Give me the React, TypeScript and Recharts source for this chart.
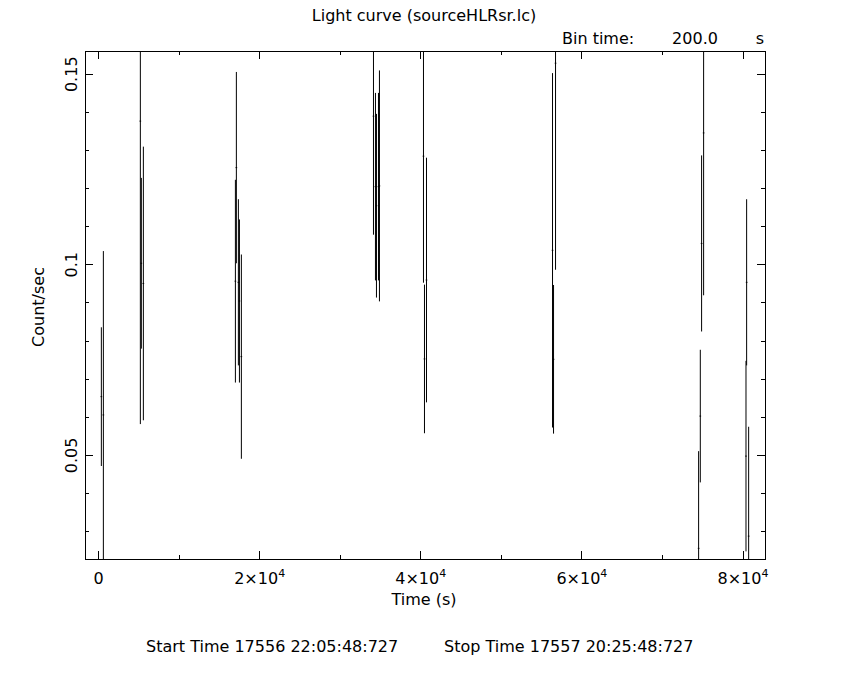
import React from "react";
import { ScatterChart, Scatter, XAxis, YAxis, ErrorBar, ReferenceArea } from "recharts";

// light curve bins: time (s), rate (count/s), 1-sigma error
const times = [
  350, 600, 5190, 5315, 5565, 16990, 17110, 17360, 17490, 17730, 34130, 34375,
  34500, 34750, 34870, 40335, 40460, 40710, 56355, 56480, 56730, 74490, 74700,
  74860, 75110, 80370, 80450, 80700,
];
const rates = [
  0.0654, 0.0606, 0.1377, 0.1004, 0.0951, 0.0957, 0.1255, 0.0954, 0.0905,
  0.0759, 0.139, 0.1205, 0.1155, 0.1205, 0.1207, 0.1285, 0.0753, 0.096, 0.1038,
  0.0752, 0.1529, 0.0256, 0.0603, 0.1056, 0.1346, 0.0498, 0.0954, 0.0288,
];
const errors = [
  0.0182, 0.043, 0.0795, 0.0224, 0.0359, 0.0266, 0.0251, 0.0218, 0.0214,
  0.0268, 0.0311, 0.0246, 0.0241, 0.0246, 0.0303, 0.0332, 0.0195, 0.0321,
  0.0465, 0.0195, 0.0542, 0.0255, 0.0174, 0.0231, 0.0426, 0.025, 0.0218,
  0.0287,
];
const BIN_HALF = 100;

const xTicks = [0, 10000, 20000, 30000, 40000, 50000, 60000, 70000, 80000];
const xMajor = [0, 20000, 40000, 60000, 80000];
const yTicks = [0.03, 0.04, 0.05, 0.06, 0.07, 0.08, 0.09, 0.1, 0.11, 0.12, 0.13, 0.14, 0.15];
const yMajor = [0.05, 0.1, 0.15];
const yLabels = ["0.05", "0.1", "0.15"];

const X_DOMAIN = [-1680, 82730];
const Y_DOMAIN = [0.0228, 0.1561];

const data = times.map((t, i) => ({
  t,
  rate: rates[i],
  err: errors[i],
  xerr: BIN_HALF,
}));

// error bars cut at the frame, like the plotting package does
const clippedErr = (d: any) => [
  Math.min(d.err, d.rate - Y_DOMAIN[0]),
  Math.min(d.err, Y_DOMAIN[1] - d.rate),
];

const W = 850;
const H = 680;
const M = { top: 51, right: 85, bottom: 121, left: 85 };
const PLOT_W = W - M.left - M.right;
const PLOT_H = H - M.top - M.bottom;

const FONT = "'DejaVu Sans', sans-serif";
const near = (a: number, b: number) => Math.abs(a - b) < 1e-9;
const isMajorX = (v: number) => xMajor.some((m) => near(m, v));
const yMajorIdx = (v: number) => yMajor.findIndex((m) => near(m, v));

function xLabel(v: number) {
  if (v === 0) return <tspan>0</tspan>;
  const m = v / 10000;
  return (
    <>
      <tspan>{`${m}×10`}</tspan>
      <tspan dy={-7} fontSize={11}>
        4
      </tspan>
    </>
  );
}

// ticks point inwards on all four sides
const BottomTick = (p: any) => {
  const { x, y, payload } = p;
  const len = isMajorX(payload.value) ? 8 : 4;
  return (
    <g>
      <line x1={x} x2={x} y1={y} y2={y - len} stroke="#000" shapeRendering="crispEdges" />
      <line x1={x} x2={x} y1={y - PLOT_H} y2={y - PLOT_H + len} stroke="#000" shapeRendering="crispEdges" />
      {len === 8 && (
        <text x={x} y={y + 25} textAnchor="middle" fontSize={16} fill="#000" fontFamily={FONT}>
          {xLabel(payload.value)}
        </text>
      )}
    </g>
  );
};

const LeftTick = (p: any) => {
  const { x, y, payload } = p;
  const idx = yMajorIdx(payload.value);
  const len = idx >= 0 ? 8 : 4;
  const lx = x - 8;
  return (
    <g>
      <line x1={x} x2={x + len} y1={y} y2={y} stroke="#000" shapeRendering="crispEdges" />
      <line x1={x + PLOT_W} x2={x + PLOT_W - len} y1={y} y2={y} stroke="#000" shapeRendering="crispEdges" />
      {idx >= 0 && (
        <text
          x={lx}
          y={y}
          transform={`rotate(-90, ${lx}, ${y})`}
          textAnchor="middle"
          fontSize={16}
          fill="#000"
          fontFamily={FONT}
        >
          {yLabels[idx]}
        </text>
      )}
    </g>
  );
};

const axisLine = { stroke: "#000", shapeRendering: "crispEdges" };

export default function App() {
  return (
    <div
      style={{
        position: "absolute",
        left: 0,
        top: 0,
        width: W,
        height: H,
        background: "#fff",
        fontFamily: FONT,
      }}
    >
      <ScatterChart
        width={W}
        height={H}
        margin={{ top: M.top, right: M.right, bottom: 0, left: 0 }}
      >
        <XAxis
          dataKey="t"
          type="number"
          domain={X_DOMAIN}
          allowDataOverflow
          ticks={xTicks}
          interval={0}
          height={M.bottom}
          tickSize={0}
          tickMargin={0}
          tickLine={false}
          axisLine={axisLine}
          tick={BottomTick}
        />
        <YAxis
          dataKey="rate"
          type="number"
          domain={Y_DOMAIN}
          allowDataOverflow
          ticks={yTicks}
          interval={0}
          width={M.left}
          tickSize={0}
          tickMargin={0}
          tickLine={false}
          axisLine={axisLine}
          tick={LeftTick}
        />
        <ReferenceArea
          x1={X_DOMAIN[0]}
          x2={X_DOMAIN[1]}
          y1={Y_DOMAIN[0]}
          y2={Y_DOMAIN[1]}
          fill="none"
          stroke="#000"
          strokeWidth={1}
          shapeRendering="crispEdges"
        />
        <Scatter data={data} isAnimationActive={false} shape={() => <g />}>
          <ErrorBar dataKey={clippedErr} direction="y" width={0} stroke="#000" strokeWidth={1} isAnimationActive={false} />
          <ErrorBar dataKey="xerr" direction="x" width={0} stroke="#000" strokeWidth={1} isAnimationActive={false} />
        </Scatter>
      </ScatterChart>
      <svg
        width={W}
        height={H}
        style={{ position: "absolute", left: 0, top: 0, pointerEvents: "none" }}
        fontFamily={FONT}
        fontSize={16}
        fill="#000"
      >
        <text x={424} y={21} textAnchor="middle">
          Light curve (sourceHLRsr.lc)
        </text>
        <text x={562} y={44}>Bin time:</text>
        <text x={695} y={44} textAnchor="middle">200.0</text>
        <text x={760} y={44} textAnchor="middle">s</text>
        <text x={424} y={605} textAnchor="middle">
          Time (s)
        </text>
        <text x={44} y={307} textAnchor="middle" transform="rotate(-90, 44, 307)">
          Count/sec
        </text>
        <text x={146} y={652}>Start Time 17556 22:05:48:727</text>
        <text x={444} y={652}>Stop Time 17557 20:25:48:727</text>
      </svg>
    </div>
  );
}
